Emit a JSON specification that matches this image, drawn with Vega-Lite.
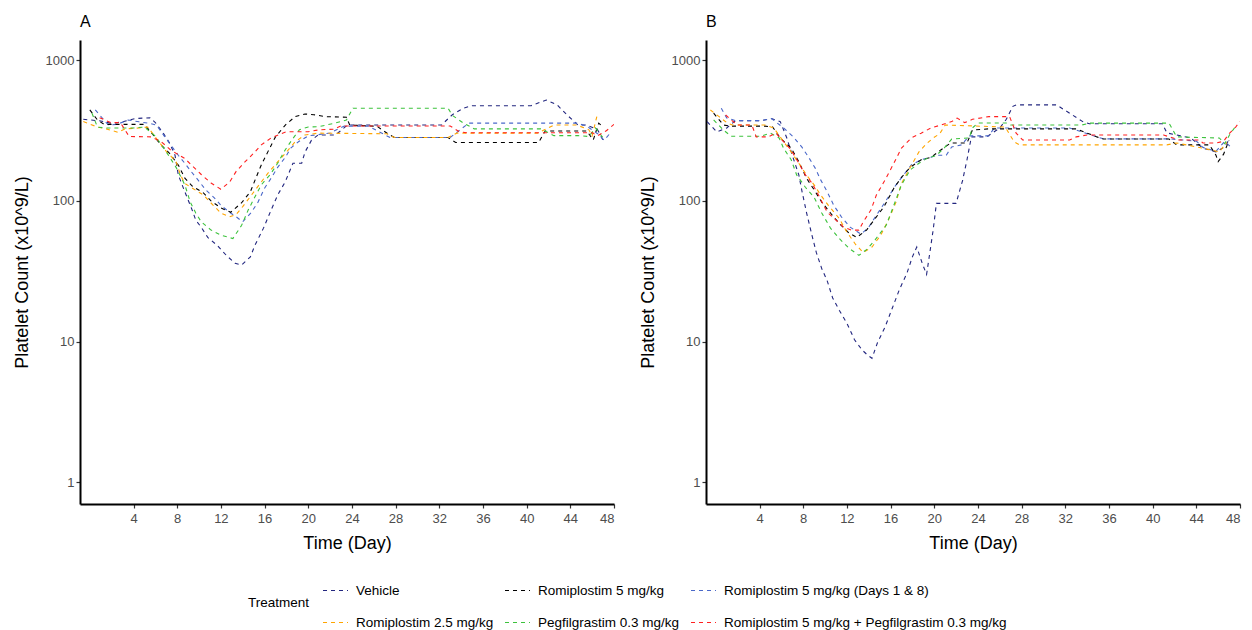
{
"$schema": "https://vega.github.io/schema/vega-lite/v6.json",
"background": "white",
"padding": {"left": 13, "top": 14, "right": 8, "bottom": 4},
"config": {
  "font": "Liberation Sans",
  "view": {"stroke": null},
  "axis": {"grid": false, "domainColor": "black", "domainWidth": 2, "tickColor": "#333333", "tickSize": 4, "tickWidth": 1.2, "labelColor": "#4d4d4d", "labelFontSize": 13, "labelFont": "Liberation Sans", "titleFont": "Liberation Sans", "titleFontSize": 18, "titleFontWeight": "normal", "titleColor": "black", "labelPadding": 2},
  "title": {"fontSize": 16, "fontWeight": "normal", "anchor": "start", "frame": "group", "font": "Liberation Sans", "color": "black", "offset": 10},
  "legend": {"labelFont": "Liberation Sans", "titleFont": "Liberation Sans"}
},
"datasets": {"d": [
{"panel":"A","trt":"V","day":-0.6,"value":380},{"panel":"A","trt":"V","day":1,"value":370},{"panel":"A","trt":"V","day":2,"value":355},{"panel":"A","trt":"V","day":3,"value":365},{"panel":"A","trt":"V","day":4.2,"value":385},{"panel":"A","trt":"V","day":5.5,"value":390},{"panel":"A","trt":"V","day":6,"value":360},{"panel":"A","trt":"V","day":6.7,"value":305},{"panel":"A","trt":"V","day":7.3,"value":258},{"panel":"A","trt":"V","day":7.8,"value":211},{"panel":"A","trt":"V","day":8.1,"value":153},{"panel":"A","trt":"V","day":8.7,"value":116},{"panel":"A","trt":"V","day":9.3,"value":89},{"panel":"A","trt":"V","day":9.7,"value":73},{"panel":"A","trt":"V","day":10.2,"value":65},{"panel":"A","trt":"V","day":10.8,"value":55},{"panel":"A","trt":"V","day":11.7,"value":48},{"panel":"A","trt":"V","day":12.5,"value":41},{"panel":"A","trt":"V","day":13.3,"value":36},{"panel":"A","trt":"V","day":13.9,"value":35},{"panel":"A","trt":"V","day":14.7,"value":40},{"panel":"A","trt":"V","day":15.1,"value":48},{"panel":"A","trt":"V","day":15.9,"value":64},{"panel":"A","trt":"V","day":16.6,"value":86},{"panel":"A","trt":"V","day":17.2,"value":110},{"panel":"A","trt":"V","day":17.9,"value":137},{"panel":"A","trt":"V","day":18.4,"value":170},{"panel":"A","trt":"V","day":18.6,"value":185},{"panel":"A","trt":"V","day":19.4,"value":185},{"panel":"A","trt":"V","day":19.7,"value":222},{"panel":"A","trt":"V","day":20.3,"value":270},{"panel":"A","trt":"V","day":20.9,"value":294},{"panel":"A","trt":"V","day":22.5,"value":294},{"panel":"A","trt":"V","day":23.6,"value":346},{"panel":"A","trt":"V","day":32.2,"value":346},{"panel":"A","trt":"V","day":33.2,"value":410},{"panel":"A","trt":"V","day":34.2,"value":456},{"panel":"A","trt":"V","day":35,"value":475},{"panel":"A","trt":"V","day":40.4,"value":475},{"panel":"A","trt":"V","day":41.8,"value":521},{"panel":"A","trt":"V","day":42.8,"value":481},{"panel":"A","trt":"V","day":43.7,"value":408},{"panel":"A","trt":"V","day":44.7,"value":346},{"panel":"A","trt":"V","day":45.5,"value":346},{"panel":"A","trt":"V","day":46.5,"value":320},{"panel":"A","trt":"V","day":47,"value":270},
{"panel":"A","trt":"R5D","day":0.5,"value":443},{"panel":"A","trt":"R5D","day":1.7,"value":346},{"panel":"A","trt":"R5D","day":2.5,"value":350},{"panel":"A","trt":"R5D","day":3.5,"value":376},{"panel":"A","trt":"R5D","day":4.5,"value":365},{"panel":"A","trt":"R5D","day":5.5,"value":355},{"panel":"A","trt":"R5D","day":6.1,"value":346},{"panel":"A","trt":"R5D","day":6.8,"value":290},{"panel":"A","trt":"R5D","day":7.4,"value":250},{"panel":"A","trt":"R5D","day":8.1,"value":211},{"panel":"A","trt":"R5D","day":8.7,"value":185},{"panel":"A","trt":"R5D","day":9.3,"value":161},{"panel":"A","trt":"R5D","day":9.9,"value":141},{"panel":"A","trt":"R5D","day":10.6,"value":120},{"panel":"A","trt":"R5D","day":11.4,"value":105},{"panel":"A","trt":"R5D","day":12,"value":93},{"panel":"A","trt":"R5D","day":12.8,"value":83},{"panel":"A","trt":"R5D","day":13.4,"value":77},{"panel":"A","trt":"R5D","day":14,"value":71},{"panel":"A","trt":"R5D","day":14.8,"value":83},{"panel":"A","trt":"R5D","day":15.4,"value":98},{"panel":"A","trt":"R5D","day":16,"value":123},{"panel":"A","trt":"R5D","day":16.6,"value":145},{"panel":"A","trt":"R5D","day":17.2,"value":173},{"panel":"A","trt":"R5D","day":17.9,"value":204},{"panel":"A","trt":"R5D","day":18.4,"value":237},{"panel":"A","trt":"R5D","day":19.1,"value":263},{"panel":"A","trt":"R5D","day":20,"value":290},{"panel":"A","trt":"R5D","day":20.7,"value":294},{"panel":"A","trt":"R5D","day":22,"value":304},{"panel":"A","trt":"R5D","day":23.3,"value":340},{"panel":"A","trt":"R5D","day":25.5,"value":340},{"panel":"A","trt":"R5D","day":27.5,"value":282},{"panel":"A","trt":"R5D","day":33,"value":282},{"panel":"A","trt":"R5D","day":34.7,"value":357},{"panel":"A","trt":"R5D","day":44.6,"value":357},{"panel":"A","trt":"R5D","day":45.5,"value":340},{"panel":"A","trt":"R5D","day":46.5,"value":300},{"panel":"A","trt":"R5D","day":47.1,"value":270},{"panel":"A","trt":"R5D","day":47.6,"value":300},
{"panel":"A","trt":"R5","day":0,"value":443},{"panel":"A","trt":"R5","day":0.7,"value":376},{"panel":"A","trt":"R5","day":1.3,"value":350},{"panel":"A","trt":"R5","day":5,"value":350},{"panel":"A","trt":"R5","day":5.9,"value":288},{"panel":"A","trt":"R5","day":6.5,"value":250},{"panel":"A","trt":"R5","day":7.3,"value":218},{"panel":"A","trt":"R5","day":8.1,"value":180},{"panel":"A","trt":"R5","day":8.7,"value":145},{"panel":"A","trt":"R5","day":9.4,"value":127},{"panel":"A","trt":"R5","day":10.4,"value":114},{"panel":"A","trt":"R5","day":11.1,"value":100},{"panel":"A","trt":"R5","day":12,"value":89},{"panel":"A","trt":"R5","day":12.9,"value":83},{"panel":"A","trt":"R5","day":13.9,"value":97},{"panel":"A","trt":"R5","day":14.7,"value":116},{"panel":"A","trt":"R5","day":15.2,"value":145},{"panel":"A","trt":"R5","day":15.7,"value":180},{"panel":"A","trt":"R5","day":16.3,"value":223},{"panel":"A","trt":"R5","day":17,"value":285},{"panel":"A","trt":"R5","day":17.9,"value":346},{"panel":"A","trt":"R5","day":18.8,"value":397},{"panel":"A","trt":"R5","day":19.7,"value":415},{"panel":"A","trt":"R5","day":20.5,"value":410},{"panel":"A","trt":"R5","day":21.6,"value":397},{"panel":"A","trt":"R5","day":23.5,"value":393},{"panel":"A","trt":"R5","day":23.8,"value":346},{"panel":"A","trt":"R5","day":26.3,"value":339},{"panel":"A","trt":"R5","day":27.3,"value":300},{"panel":"A","trt":"R5","day":27.9,"value":282},{"panel":"A","trt":"R5","day":32.8,"value":282},{"panel":"A","trt":"R5","day":33.5,"value":260},{"panel":"A","trt":"R5","day":41.1,"value":260},{"panel":"A","trt":"R5","day":41.7,"value":314},{"panel":"A","trt":"R5","day":45.5,"value":314},{"panel":"A","trt":"R5","day":46.1,"value":271},{"panel":"A","trt":"R5","day":46.6,"value":357},{"panel":"A","trt":"R5","day":47,"value":335},
{"panel":"A","trt":"R25","day":-0.6,"value":366},{"panel":"A","trt":"R25","day":0.7,"value":335},{"panel":"A","trt":"R25","day":1.5,"value":325},{"panel":"A","trt":"R25","day":2.6,"value":307},{"panel":"A","trt":"R25","day":3.2,"value":325},{"panel":"A","trt":"R25","day":4.5,"value":330},{"panel":"A","trt":"R25","day":5.3,"value":335},{"panel":"A","trt":"R25","day":6.2,"value":271},{"panel":"A","trt":"R25","day":7,"value":225},{"panel":"A","trt":"R25","day":7.9,"value":190},{"panel":"A","trt":"R25","day":8.3,"value":153},{"panel":"A","trt":"R25","day":8.7,"value":133},{"panel":"A","trt":"R25","day":9.4,"value":123},{"panel":"A","trt":"R25","day":10.4,"value":110},{"panel":"A","trt":"R25","day":11.3,"value":93},{"panel":"A","trt":"R25","day":12,"value":82},{"panel":"A","trt":"R25","day":12.8,"value":77},{"panel":"A","trt":"R25","day":13.4,"value":80},{"panel":"A","trt":"R25","day":14,"value":91},{"panel":"A","trt":"R25","day":14.8,"value":110},{"panel":"A","trt":"R25","day":15.6,"value":133},{"panel":"A","trt":"R25","day":16.3,"value":157},{"panel":"A","trt":"R25","day":17.2,"value":189},{"panel":"A","trt":"R25","day":18,"value":222},{"panel":"A","trt":"R25","day":18.8,"value":263},{"panel":"A","trt":"R25","day":19.7,"value":294},{"panel":"A","trt":"R25","day":20.9,"value":303},{"panel":"A","trt":"R25","day":27.2,"value":300},{"panel":"A","trt":"R25","day":27.9,"value":282},{"panel":"A","trt":"R25","day":32.8,"value":282},{"panel":"A","trt":"R25","day":33.6,"value":303},{"panel":"A","trt":"R25","day":41,"value":303},{"panel":"A","trt":"R25","day":42.5,"value":346},{"panel":"A","trt":"R25","day":44.6,"value":346},{"panel":"A","trt":"R25","day":45.7,"value":320},{"panel":"A","trt":"R25","day":46,"value":290},{"panel":"A","trt":"R25","day":46.5,"value":420},
{"panel":"A","trt":"P","day":0.2,"value":420},{"panel":"A","trt":"P","day":0.7,"value":334},{"panel":"A","trt":"P","day":1.5,"value":330},{"panel":"A","trt":"P","day":4,"value":330},{"panel":"A","trt":"P","day":5,"value":335},{"panel":"A","trt":"P","day":6,"value":288},{"panel":"A","trt":"P","day":6.7,"value":242},{"panel":"A","trt":"P","day":7.2,"value":211},{"panel":"A","trt":"P","day":7.9,"value":173},{"panel":"A","trt":"P","day":8.7,"value":130},{"panel":"A","trt":"P","day":9.2,"value":98},{"panel":"A","trt":"P","day":9.7,"value":82},{"panel":"A","trt":"P","day":10.2,"value":71},{"panel":"A","trt":"P","day":11.1,"value":62},{"panel":"A","trt":"P","day":12,"value":57},{"panel":"A","trt":"P","day":13.1,"value":54},{"panel":"A","trt":"P","day":13.9,"value":67},{"panel":"A","trt":"P","day":14.5,"value":86},{"panel":"A","trt":"P","day":15.1,"value":106},{"panel":"A","trt":"P","day":15.7,"value":130},{"panel":"A","trt":"P","day":16.5,"value":153},{"panel":"A","trt":"P","day":17.2,"value":185},{"panel":"A","trt":"P","day":17.9,"value":231},{"panel":"A","trt":"P","day":18.6,"value":278},{"panel":"A","trt":"P","day":19.2,"value":321},{"panel":"A","trt":"P","day":20,"value":335},{"panel":"A","trt":"P","day":21,"value":337},{"panel":"A","trt":"P","day":22.5,"value":358},{"panel":"A","trt":"P","day":23.5,"value":376},{"panel":"A","trt":"P","day":24.1,"value":456},{"panel":"A","trt":"P","day":32.8,"value":456},{"panel":"A","trt":"P","day":33.2,"value":405},{"panel":"A","trt":"P","day":34.2,"value":358},{"panel":"A","trt":"P","day":35.2,"value":325},{"panel":"A","trt":"P","day":41.3,"value":325},{"panel":"A","trt":"P","day":42.5,"value":291},{"panel":"A","trt":"P","day":44.7,"value":291},{"panel":"A","trt":"P","day":45.7,"value":287},{"panel":"A","trt":"P","day":46.3,"value":330},{"panel":"A","trt":"P","day":46.7,"value":300},{"panel":"A","trt":"P","day":47.2,"value":270},
{"panel":"A","trt":"RP","day":0.9,"value":390},{"panel":"A","trt":"RP","day":1.9,"value":360},{"panel":"A","trt":"RP","day":2.8,"value":360},{"panel":"A","trt":"RP","day":3.6,"value":287},{"panel":"A","trt":"RP","day":5.6,"value":285},{"panel":"A","trt":"RP","day":6.5,"value":265},{"panel":"A","trt":"RP","day":7.4,"value":230},{"panel":"A","trt":"RP","day":8.7,"value":200},{"panel":"A","trt":"RP","day":9.4,"value":177},{"panel":"A","trt":"RP","day":10.2,"value":154},{"panel":"A","trt":"RP","day":11.1,"value":134},{"panel":"A","trt":"RP","day":12,"value":121},{"panel":"A","trt":"RP","day":12.8,"value":136},{"panel":"A","trt":"RP","day":13.4,"value":162},{"panel":"A","trt":"RP","day":14.2,"value":189},{"panel":"A","trt":"RP","day":15,"value":218},{"panel":"A","trt":"RP","day":15.7,"value":250},{"panel":"A","trt":"RP","day":16.6,"value":280},{"panel":"A","trt":"RP","day":17.5,"value":300},{"panel":"A","trt":"RP","day":18,"value":310},{"panel":"A","trt":"RP","day":20,"value":310},{"panel":"A","trt":"RP","day":21,"value":320},{"panel":"A","trt":"RP","day":22.3,"value":323},{"panel":"A","trt":"RP","day":23,"value":341},{"panel":"A","trt":"RP","day":33,"value":341},{"panel":"A","trt":"RP","day":33.8,"value":311},{"panel":"A","trt":"RP","day":34.5,"value":305},{"panel":"A","trt":"RP","day":46,"value":305},{"panel":"A","trt":"RP","day":46.5,"value":290},{"panel":"A","trt":"RP","day":47.3,"value":315},{"panel":"A","trt":"RP","day":48,"value":350},
{"panel":"B","trt":"V","day":-0.8,"value":366},{"panel":"B","trt":"V","day":0.1,"value":309},{"panel":"B","trt":"V","day":1,"value":330},{"panel":"B","trt":"V","day":1.8,"value":372},{"panel":"B","trt":"V","day":4.2,"value":372},{"panel":"B","trt":"V","day":5.1,"value":385},{"panel":"B","trt":"V","day":5.9,"value":366},{"panel":"B","trt":"V","day":6.5,"value":280},{"panel":"B","trt":"V","day":7.1,"value":200},{"panel":"B","trt":"V","day":7.6,"value":153},{"panel":"B","trt":"V","day":7.9,"value":116},{"panel":"B","trt":"V","day":8.3,"value":83},{"panel":"B","trt":"V","day":8.8,"value":57},{"panel":"B","trt":"V","day":9.2,"value":43},{"panel":"B","trt":"V","day":9.7,"value":33},{"panel":"B","trt":"V","day":10.2,"value":27},{"panel":"B","trt":"V","day":10.7,"value":20.4},{"panel":"B","trt":"V","day":11.3,"value":16.7},{"panel":"B","trt":"V","day":12,"value":13.5},{"panel":"B","trt":"V","day":12.7,"value":10.3},{"panel":"B","trt":"V","day":13.4,"value":8.7},{"panel":"B","trt":"V","day":13.9,"value":8.0},{"panel":"B","trt":"V","day":14.3,"value":7.6},{"panel":"B","trt":"V","day":14.8,"value":9.8},{"panel":"B","trt":"V","day":15.5,"value":12.7},{"panel":"B","trt":"V","day":16.2,"value":17.6},{"panel":"B","trt":"V","day":16.8,"value":23.3},{"panel":"B","trt":"V","day":17.5,"value":30.6},{"panel":"B","trt":"V","day":18,"value":40},{"panel":"B","trt":"V","day":18.4,"value":47},{"panel":"B","trt":"V","day":18.9,"value":36},{"panel":"B","trt":"V","day":19.3,"value":30},{"panel":"B","trt":"V","day":19.6,"value":43},{"panel":"B","trt":"V","day":19.9,"value":62},{"panel":"B","trt":"V","day":20.2,"value":96},{"panel":"B","trt":"V","day":22,"value":96},{"panel":"B","trt":"V","day":22.6,"value":140},{"panel":"B","trt":"V","day":23,"value":196},{"panel":"B","trt":"V","day":23.4,"value":285},{"panel":"B","trt":"V","day":24.8,"value":285},{"panel":"B","trt":"V","day":26,"value":330},{"panel":"B","trt":"V","day":26.6,"value":380},{"panel":"B","trt":"V","day":27.2,"value":470},{"panel":"B","trt":"V","day":27.5,"value":481},{"panel":"B","trt":"V","day":31.2,"value":481},{"panel":"B","trt":"V","day":32.4,"value":420},{"panel":"B","trt":"V","day":33.6,"value":366},{"panel":"B","trt":"V","day":34.2,"value":353},{"panel":"B","trt":"V","day":40.9,"value":353},{"panel":"B","trt":"V","day":41.3,"value":304},{"panel":"B","trt":"V","day":43.5,"value":280},{"panel":"B","trt":"V","day":44.6,"value":237},{"panel":"B","trt":"V","day":45.8,"value":223},{"panel":"B","trt":"V","day":46.5,"value":240},{"panel":"B","trt":"V","day":47,"value":270},
{"panel":"B","trt":"R5D","day":0.5,"value":456},{"panel":"B","trt":"R5D","day":1,"value":388},{"panel":"B","trt":"R5D","day":1.8,"value":372},{"panel":"B","trt":"R5D","day":4.2,"value":372},{"panel":"B","trt":"R5D","day":5.1,"value":385},{"panel":"B","trt":"R5D","day":6.2,"value":330},{"panel":"B","trt":"R5D","day":7.1,"value":285},{"panel":"B","trt":"R5D","day":7.9,"value":240},{"panel":"B","trt":"R5D","day":8.5,"value":204},{"panel":"B","trt":"R5D","day":9.1,"value":171},{"panel":"B","trt":"R5D","day":9.6,"value":141},{"panel":"B","trt":"R5D","day":10.2,"value":116},{"panel":"B","trt":"R5D","day":10.8,"value":93},{"panel":"B","trt":"R5D","day":11.5,"value":77},{"panel":"B","trt":"R5D","day":12.3,"value":65},{"panel":"B","trt":"R5D","day":13.3,"value":58},{"panel":"B","trt":"R5D","day":14,"value":65},{"panel":"B","trt":"R5D","day":14.7,"value":79},{"panel":"B","trt":"R5D","day":15.5,"value":98},{"panel":"B","trt":"R5D","day":16.5,"value":130},{"panel":"B","trt":"R5D","day":17.2,"value":153},{"panel":"B","trt":"R5D","day":17.9,"value":180},{"panel":"B","trt":"R5D","day":18.8,"value":196},{"panel":"B","trt":"R5D","day":19.7,"value":204},{"panel":"B","trt":"R5D","day":20.2,"value":211},{"panel":"B","trt":"R5D","day":21.1,"value":211},{"panel":"B","trt":"R5D","day":21.6,"value":242},{"panel":"B","trt":"R5D","day":22.5,"value":250},{"panel":"B","trt":"R5D","day":23.2,"value":290},{"panel":"B","trt":"R5D","day":25,"value":290},{"panel":"B","trt":"R5D","day":25.5,"value":330},{"panel":"B","trt":"R5D","day":32.4,"value":330},{"panel":"B","trt":"R5D","day":34.9,"value":285},{"panel":"B","trt":"R5D","day":35.5,"value":276},{"panel":"B","trt":"R5D","day":41.5,"value":276},{"panel":"B","trt":"R5D","day":44,"value":266},{"panel":"B","trt":"R5D","day":44.6,"value":240},{"panel":"B","trt":"R5D","day":45.8,"value":225},{"panel":"B","trt":"R5D","day":46.6,"value":265},{"panel":"B","trt":"R5D","day":47.2,"value":240},
{"panel":"B","trt":"R5","day":-0.2,"value":420},{"panel":"B","trt":"R5","day":0.7,"value":346},{"panel":"B","trt":"R5","day":1.3,"value":340},{"panel":"B","trt":"R5","day":4.5,"value":340},{"panel":"B","trt":"R5","day":5.2,"value":335},{"panel":"B","trt":"R5","day":5.9,"value":280},{"panel":"B","trt":"R5","day":6.9,"value":237},{"panel":"B","trt":"R5","day":7.6,"value":190},{"panel":"B","trt":"R5","day":8.3,"value":145},{"panel":"B","trt":"R5","day":9,"value":120},{"panel":"B","trt":"R5","day":9.7,"value":98},{"panel":"B","trt":"R5","day":10.5,"value":82},{"panel":"B","trt":"R5","day":11.3,"value":69},{"panel":"B","trt":"R5","day":12.2,"value":59},{"panel":"B","trt":"R5","day":12.9,"value":55},{"panel":"B","trt":"R5","day":13.8,"value":62},{"panel":"B","trt":"R5","day":14.6,"value":75},{"panel":"B","trt":"R5","day":15.4,"value":91},{"panel":"B","trt":"R5","day":16.3,"value":123},{"panel":"B","trt":"R5","day":17,"value":147},{"panel":"B","trt":"R5","day":17.8,"value":173},{"panel":"B","trt":"R5","day":18.8,"value":196},{"panel":"B","trt":"R5","day":19.7,"value":204},{"panel":"B","trt":"R5","day":20.6,"value":230},{"panel":"B","trt":"R5","day":21.5,"value":258},{"panel":"B","trt":"R5","day":23,"value":258},{"panel":"B","trt":"R5","day":23.5,"value":319},{"panel":"B","trt":"R5","day":25,"value":325},{"panel":"B","trt":"R5","day":33,"value":325},{"panel":"B","trt":"R5","day":34.9,"value":285},{"panel":"B","trt":"R5","day":35.5,"value":275},{"panel":"B","trt":"R5","day":41.5,"value":275},{"panel":"B","trt":"R5","day":42.2,"value":250},{"panel":"B","trt":"R5","day":45.2,"value":250},{"panel":"B","trt":"R5","day":45.8,"value":211},{"panel":"B","trt":"R5","day":46,"value":190},{"panel":"B","trt":"R5","day":46.5,"value":215},{"panel":"B","trt":"R5","day":47,"value":270},
{"panel":"B","trt":"R25","day":-0.5,"value":443},{"panel":"B","trt":"R25","day":0.3,"value":397},{"panel":"B","trt":"R25","day":1,"value":360},{"panel":"B","trt":"R25","day":1.5,"value":346},{"panel":"B","trt":"R25","day":4.5,"value":346},{"panel":"B","trt":"R25","day":5.3,"value":330},{"panel":"B","trt":"R25","day":6.2,"value":264},{"panel":"B","trt":"R25","day":6.9,"value":223},{"panel":"B","trt":"R25","day":7.6,"value":185},{"panel":"B","trt":"R25","day":8.3,"value":153},{"panel":"B","trt":"R25","day":9,"value":130},{"panel":"B","trt":"R25","day":9.6,"value":110},{"panel":"B","trt":"R25","day":10.3,"value":93},{"panel":"B","trt":"R25","day":11.3,"value":75},{"panel":"B","trt":"R25","day":12,"value":60},{"panel":"B","trt":"R25","day":12.8,"value":49},{"panel":"B","trt":"R25","day":13.5,"value":43},{"panel":"B","trt":"R25","day":14.3,"value":47},{"panel":"B","trt":"R25","day":15.1,"value":57},{"panel":"B","trt":"R25","day":15.8,"value":73},{"panel":"B","trt":"R25","day":16.5,"value":98},{"panel":"B","trt":"R25","day":17,"value":133},{"panel":"B","trt":"R25","day":17.8,"value":173},{"panel":"B","trt":"R25","day":18.6,"value":223},{"panel":"B","trt":"R25","day":19.3,"value":255},{"panel":"B","trt":"R25","day":19.9,"value":280},{"panel":"B","trt":"R25","day":20.5,"value":300},{"panel":"B","trt":"R25","day":21,"value":346},{"panel":"B","trt":"R25","day":26.5,"value":335},{"panel":"B","trt":"R25","day":27.3,"value":264},{"panel":"B","trt":"R25","day":27.8,"value":250},{"panel":"B","trt":"R25","day":41.3,"value":250},{"panel":"B","trt":"R25","day":42.2,"value":258},{"panel":"B","trt":"R25","day":44.6,"value":237},{"panel":"B","trt":"R25","day":46.1,"value":223},{"panel":"B","trt":"R25","day":46.8,"value":260},
{"panel":"B","trt":"P","day":-0.2,"value":376},{"panel":"B","trt":"P","day":0.7,"value":319},{"panel":"B","trt":"P","day":1.4,"value":288},{"panel":"B","trt":"P","day":4.1,"value":288},{"panel":"B","trt":"P","day":5,"value":303},{"panel":"B","trt":"P","day":5.8,"value":280},{"panel":"B","trt":"P","day":6.2,"value":237},{"panel":"B","trt":"P","day":6.9,"value":196},{"panel":"B","trt":"P","day":7.4,"value":153},{"panel":"B","trt":"P","day":8.2,"value":125},{"panel":"B","trt":"P","day":9,"value":106},{"panel":"B","trt":"P","day":9.7,"value":82},{"panel":"B","trt":"P","day":10.5,"value":64},{"panel":"B","trt":"P","day":11.3,"value":54},{"panel":"B","trt":"P","day":12.2,"value":46},{"panel":"B","trt":"P","day":13.1,"value":41},{"panel":"B","trt":"P","day":13.8,"value":45},{"panel":"B","trt":"P","day":14.6,"value":53},{"panel":"B","trt":"P","day":15.6,"value":67},{"panel":"B","trt":"P","day":16.3,"value":93},{"panel":"B","trt":"P","day":17,"value":130},{"panel":"B","trt":"P","day":17.8,"value":166},{"panel":"B","trt":"P","day":18.6,"value":185},{"panel":"B","trt":"P","day":19.3,"value":200},{"panel":"B","trt":"P","day":20.2,"value":211},{"panel":"B","trt":"P","day":20.9,"value":237},{"panel":"B","trt":"P","day":21.6,"value":275},{"panel":"B","trt":"P","day":23.2,"value":280},{"panel":"B","trt":"P","day":23.5,"value":330},{"panel":"B","trt":"P","day":24,"value":358},{"panel":"B","trt":"P","day":26.6,"value":358},{"panel":"B","trt":"P","day":27,"value":346},{"panel":"B","trt":"P","day":33.5,"value":346},{"panel":"B","trt":"P","day":34.2,"value":357},{"panel":"B","trt":"P","day":41.5,"value":357},{"panel":"B","trt":"P","day":42.2,"value":285},{"panel":"B","trt":"P","day":46.1,"value":280},{"panel":"B","trt":"P","day":46.6,"value":255},{"panel":"B","trt":"P","day":47.1,"value":300},{"panel":"B","trt":"P","day":47.5,"value":330},
{"panel":"B","trt":"RP","day":0.9,"value":408},{"panel":"B","trt":"RP","day":1.4,"value":376},{"panel":"B","trt":"RP","day":2,"value":346},{"panel":"B","trt":"RP","day":3.3,"value":346},{"panel":"B","trt":"RP","day":3.7,"value":285},{"panel":"B","trt":"RP","day":4.8,"value":285},{"panel":"B","trt":"RP","day":5.5,"value":303},{"panel":"B","trt":"RP","day":6.2,"value":264},{"panel":"B","trt":"RP","day":6.9,"value":230},{"panel":"B","trt":"RP","day":7.6,"value":185},{"panel":"B","trt":"RP","day":8.2,"value":153},{"panel":"B","trt":"RP","day":8.8,"value":134},{"panel":"B","trt":"RP","day":9.4,"value":110},{"panel":"B","trt":"RP","day":10.2,"value":83},{"panel":"B","trt":"RP","day":11,"value":73},{"panel":"B","trt":"RP","day":11.7,"value":65},{"panel":"B","trt":"RP","day":12.4,"value":62},{"panel":"B","trt":"RP","day":13.1,"value":62},{"panel":"B","trt":"RP","day":13.5,"value":71},{"panel":"B","trt":"RP","day":14.2,"value":86},{"panel":"B","trt":"RP","day":14.7,"value":110},{"panel":"B","trt":"RP","day":15.5,"value":141},{"panel":"B","trt":"RP","day":16.3,"value":185},{"panel":"B","trt":"RP","day":17,"value":237},{"panel":"B","trt":"RP","day":17.9,"value":280},{"panel":"B","trt":"RP","day":18.8,"value":303},{"panel":"B","trt":"RP","day":19.7,"value":330},{"panel":"B","trt":"RP","day":20.6,"value":346},{"panel":"B","trt":"RP","day":21.6,"value":366},{"panel":"B","trt":"RP","day":22.1,"value":388},{"panel":"B","trt":"RP","day":22.8,"value":360},{"panel":"B","trt":"RP","day":23.5,"value":380},{"panel":"B","trt":"RP","day":25,"value":397},{"panel":"B","trt":"RP","day":26.9,"value":397},{"panel":"B","trt":"RP","day":27.5,"value":303},{"panel":"B","trt":"RP","day":28.1,"value":271},{"panel":"B","trt":"RP","day":32.4,"value":271},{"panel":"B","trt":"RP","day":33,"value":285},{"panel":"B","trt":"RP","day":34,"value":294},{"panel":"B","trt":"RP","day":41,"value":294},{"panel":"B","trt":"RP","day":42.4,"value":271},{"panel":"B","trt":"RP","day":44.3,"value":271},{"panel":"B","trt":"RP","day":44.6,"value":258},{"panel":"B","trt":"RP","day":45.8,"value":258},{"panel":"B","trt":"RP","day":46.5,"value":265},{"panel":"B","trt":"RP","day":47,"value":300},{"panel":"B","trt":"RP","day":47.6,"value":335},{"panel":"B","trt":"RP","day":48,"value":366}
]},
"spacing": 92,
"bounds": "flush",
"resolve": {"scale": {"color": "shared"}},
"hconcat": [
 {
  "title": {"text": "A"},
  "width": 534, "height": 464,
  "data": {"name": "d"},
  "transform": [{"filter": "datum.panel === 'A'"}],
  "mark": {"type": "line", "strokeWidth": 1.1, "strokeDash": [4, 4], "clip": true},
  "encoding": {
   "x": {"field": "day", "type": "quantitative", "scale": {"domain": [-0.9, 48], "nice": false, "zero": false}, "axis": {"values": [4,8,12,16,20,24,28,32,36,40,44,48], "title": "Time (Day)", "titlePadding": 9, "labelPadding": 4}},
   "y": {"field": "value", "type": "quantitative", "scale": {"type": "log", "domain": [0.70, 1392], "nice": false}, "axis": {"values": [1,10,100,1000], "format": "d", "title": "Platelet Count (x10^9/L)", "titlePadding": 14}},
   "color": {"field": "trt", "type": "nominal", "scale": {"domain": ["V","R5","R5D","R25","P","RP"], "range": ["#22267f","#000000","#4a68c9","#ffa500","#3cc23c","#ff2020"]},
     "legend": {"orient": "none", "legendX": 168, "legendY": 537, "direction": "horizontal", "columns": 3, "title": "Treatment", "titleOrient": "left", "titleAnchor": "middle", "titleBaseline": "middle", "titleFontSize": 13.5, "titleFontWeight": "normal", "titleColor": "black", "titlePadding": 12, "labelFontSize": 13.5, "labelColor": "black", "labelLimit": 0, "symbolType": "stroke", "symbolSize": 625, "symbolStrokeWidth": 1.1, "symbolDash": [4, 4], "labelOffset": 7, "columnPadding": 8, "rowPadding": 12,
       "labelExpr": "{'V':'Vehicle','R5':'Romiplostim 5 mg/kg','R5D':'Romiplostim 5 mg/kg (Days 1 & 8)','R25':'Romiplostim 2.5 mg/kg','P':'Pegfilgrastim 0.3 mg/kg','RP':'Romiplostim 5 mg/kg + Pegfilgrastim 0.3 mg/kg'}[datum.label]"}}
  }
 },
 {
  "title": {"text": "B"},
  "width": 534, "height": 464,
  "data": {"name": "d"},
  "transform": [{"filter": "datum.panel === 'B'"}],
  "mark": {"type": "line", "strokeWidth": 1.1, "strokeDash": [4, 4], "clip": true},
  "encoding": {
   "x": {"field": "day", "type": "quantitative", "scale": {"domain": [-0.9, 48], "nice": false, "zero": false}, "axis": {"values": [4,8,12,16,20,24,28,32,36,40,44,48], "title": "Time (Day)", "titlePadding": 9, "labelPadding": 4}},
   "y": {"field": "value", "type": "quantitative", "scale": {"type": "log", "domain": [0.70, 1392], "nice": false}, "axis": {"values": [1,10,100,1000], "format": "d", "title": "Platelet Count (x10^9/L)", "titlePadding": 14}},
   "color": {"field": "trt", "type": "nominal"}
  }
 }
]
}
